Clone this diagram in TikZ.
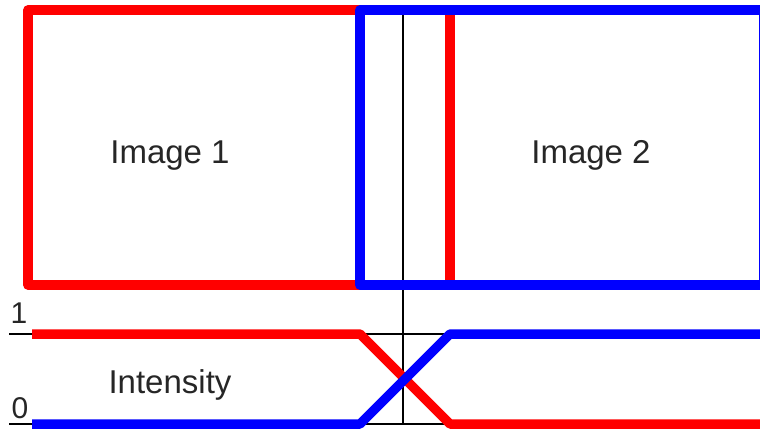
\documentclass[tikz,border=0pt]{standalone}
\usepackage{fontspec}
\setmainfont{Liberation Sans}
\begin{document}
\begin{tikzpicture}[x=1pt,y=-1pt,line join=round]
        \useasboundingbox (0,0) rectangle (760,429);
        % Corner points of the two images
        \coordinate (ra) at (28,10);
        \coordinate (rb) at (450,285);
        \coordinate (ba) at (360,10);
        \coordinate (bb) at (764,285);
        % Points of the axes
        \coordinate (t1) at (9,334);
        \coordinate (e1) at (760,334);
        \coordinate (t0) at (9,424);
        \coordinate (e0) at (760,424);
        \coordinate (vtop) at (403,10);
        \coordinate (vbot) at (403,424);
        % Points of the ramps
        \coordinate (s1) at (32,334);
        \coordinate (s0) at (32,424);
        \coordinate (k1) at (360,334);
        \coordinate (k0) at (360,424);
        \coordinate (m1) at (450,334);
        \coordinate (m0) at (450,424);

        % Draw black lines
        \draw[line width=1.5] (t1) -- (e1);
        \draw[line width=1.5] (t0) -- (e0);
        \draw[line width=1.5] (vtop) -- (vbot);

        % Draw image frames
        \draw[red,line width=9.5] (ra) rectangle (rb);
        \draw[blue,line width=9.5] (ba) rectangle (bb);

        % Draw intensity ramps
        \draw[red,line width=9.5] (s1) -- (k1) -- (m0) -- (e0);
        \draw[blue,line width=9.5] (s0) -- (k0) -- (m1) -- (e1);

        % Draw labels
        \node[anchor=base,text=black!85,font=\fontsize{33}{38}\selectfont] (img1) at (170,163) {Image 1};
        \node[anchor=base,text=black!85,font=\fontsize{33}{38}\selectfont] (img2) at (591,163) {Image 2};
        \node[anchor=base,text=black!85,font=\fontsize{33}{38}\selectfont] (ints) at (170,393) {Intensity};
        \node[anchor=base,text=black!85,font=\fontsize{30}{34}\selectfont] (one) at (19,323) {1};
        \node[anchor=base,text=black!85,font=\fontsize{30}{34}\selectfont] (zero) at (20,418) {0};
\end{tikzpicture}
\end{document}
